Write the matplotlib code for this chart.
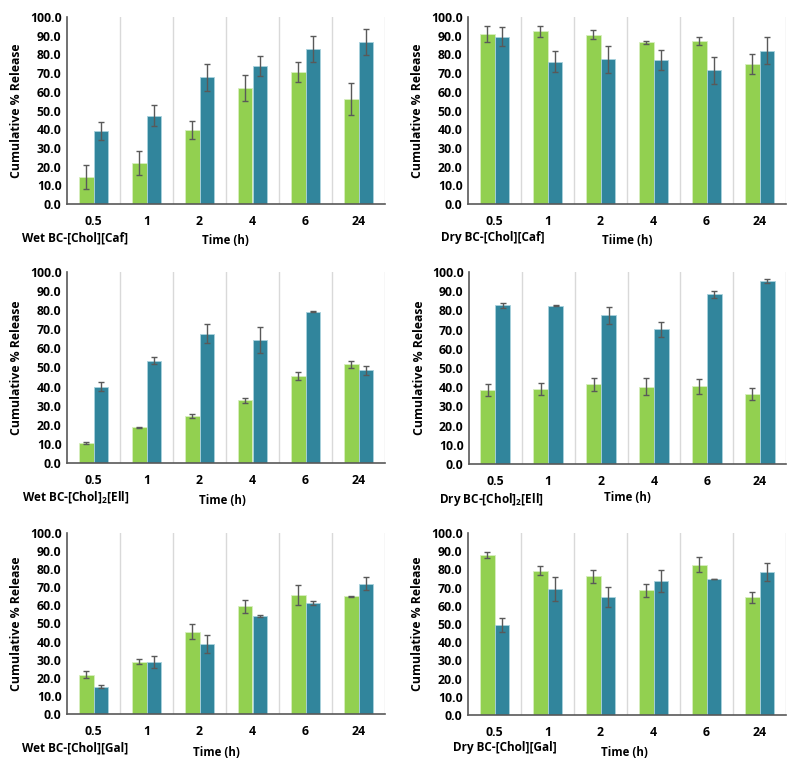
import matplotlib
matplotlib.use("Agg")
import matplotlib.pyplot as plt
import numpy as np

times = ["0.5", "1", "2", "4", "6", "24"]

# Panel data: green series, teal series, and their error bars
wet_caf_g = [14.6, 22.0, 39.5, 62.0, 70.7, 56.3]
wet_caf_g_err = [6.5, 6.4, 5.0, 6.8, 5.5, 8.5]
wet_caf_t = [39.1, 47.3, 67.7, 73.8, 82.9, 86.6]
wet_caf_t_err = [5.0, 5.5, 7.2, 5.4, 7.2, 7.0]

dry_caf_g = [90.9, 92.3, 90.5, 86.4, 87.0, 74.8]
dry_caf_g_err = [4.5, 3.1, 2.3, 1.0, 2.2, 5.2]
dry_caf_t = [89.5, 76.1, 77.3, 76.8, 71.4, 82.0]
dry_caf_t_err = [5.0, 5.6, 7.3, 5.4, 7.4, 7.2]

wet_ell_g = [10.5, 18.7, 24.6, 32.8, 45.5, 51.7]
wet_ell_g_err = [0.3, 0.3, 0.9, 1.4, 1.9, 1.9]
wet_ell_t = [40.0, 53.6, 67.7, 64.4, 79.2, 48.5]
wet_ell_t_err = [2.3, 1.7, 4.9, 6.8, 0.3, 2.4]

dry_ell_g = [38.5, 39.1, 41.5, 40.3, 40.5, 36.6]
dry_ell_g_err = [3.3, 3.0, 3.4, 4.3, 4.0, 3.1]
dry_ell_t = [82.8, 82.5, 77.4, 70.1, 88.5, 95.5]
dry_ell_t_err = [1.3, 0.3, 4.6, 4.0, 1.8, 1.0]

wet_gal_g = [21.8, 29.0, 45.4, 59.4, 65.7, 65.1]
wet_gal_g_err = [2.1, 1.6, 4.2, 3.7, 5.3, 0.3]
wet_gal_t = [15.1, 28.6, 38.6, 54.2, 61.4, 72.0]
wet_gal_t_err = [0.9, 3.3, 5.0, 0.5, 1.3, 3.5]

dry_gal_g = [87.9, 79.3, 76.3, 68.6, 82.6, 64.6]
dry_gal_g_err = [1.6, 2.4, 3.5, 3.5, 4.0, 3.2]
dry_gal_t = [49.4, 69.2, 64.8, 73.6, 74.7, 78.5]
dry_gal_t_err = [3.7, 6.5, 5.7, 6.0, 0.2, 4.8]

names = ["Wet BC-[Chol][Caf]", "Dry BC-[Chol][Caf]",
         r"Wet BC-[Chol]$_\mathbf{2}$[Ell]", r"Dry BC-[Chol]$_\mathbf{2}$[Ell]",
         "Wet BC-[Chol][Gal]", "Dry BC-[Chol][Gal]"]
xlabels = ["Time (h)", "Tiime (h)", "Time (h)", "Time (h)", "Time (h)", "Time (h)"]
yticks = [0, 10, 20, 30, 40, 50, 60, 70, 80, 90, 100]

panels = [
    (wet_caf_g, wet_caf_g_err, wet_caf_t, wet_caf_t_err),
    (dry_caf_g, dry_caf_g_err, dry_caf_t, dry_caf_t_err),
    (wet_ell_g, wet_ell_g_err, wet_ell_t, wet_ell_t_err),
    (dry_ell_g, dry_ell_g_err, dry_ell_t, dry_ell_t_err),
    (wet_gal_g, wet_gal_g_err, wet_gal_t, wet_gal_t_err),
    (dry_gal_g, dry_gal_g_err, dry_gal_t, dry_gal_t_err),
]

plt.rcParams['font.family'] = ['Open Sans', 'DejaVu Sans']
plt.rcParams['font.weight'] = 'bold'
plt.rcParams['mathtext.fontset'] = 'custom'
plt.rcParams['mathtext.bf'] = 'Open Sans:bold'
plt.rcParams['mathtext.rm'] = 'Open Sans:bold'
plt.rcParams['mathtext.default'] = 'bf'

W, H = 800, 771
fig = plt.figure(figsize=(W / 100, H / 100), dpi=100)

# axes boxes in pixels: left, top, right, bottom
boxes = [(67, 17, 385, 204), (468, 17, 786, 204),
         (67, 272, 385, 463), (469, 272, 786, 464),
         (67, 533, 385, 714), (468, 533, 786, 715)]
# label positions in pixels: (name_left_x, name_y, time_center_x, time_y)
label_pos = [(22, 238, 225, 240), (441, 237, 627, 240),
             (22, 497, 222, 501), (439, 499, 627, 497),
             (22, 748, 216, 752), (453, 748, 624, 753)]

GREEN = "#92D050"
TEAL = "#31859C"
bw = 0.283
x = np.arange(len(times))

for i, (box, (g, ge, t, te)) in enumerate(zip(boxes, panels)):
    l, tp, r, b = box
    ax = fig.add_axes([l / W, 1 - b / H, (r - l) / W, (b - tp) / H])
    ax.bar(x - bw / 2, g, bw, color=GREEN, edgecolor="#d8efc0", linewidth=0.6, zorder=2)
    ax.bar(x + bw / 2, t, bw, color=TEAL, edgecolor="#a9d2dd", linewidth=0.6, zorder=2)
    ax.errorbar(x - bw / 2, g, yerr=ge, fmt="none", ecolor="#595959", elinewidth=1.0,
                capsize=2.5, capthick=1.0, zorder=3)
    ax.errorbar(x + bw / 2, t, yerr=te, fmt="none", ecolor="#595959", elinewidth=1.0,
                capsize=2.5, capthick=1.0, zorder=3)
    for v in np.arange(0.5, len(times), 1.0):
        ax.axvline(v, color="#D9D9D9", linewidth=1.0, zorder=1)
    ax.set_xlim(-0.5, len(times) - 0.5)
    ax.set_ylim(0, 100)
    ax.set_yticks(yticks)
    ax.set_yticklabels([f"{v:.1f}" for v in yticks])
    ax.set_xticks(x)
    ax.set_xticklabels(times)
    ax.tick_params(axis="both", length=0, labelsize=8.8, colors="black")
    ax.tick_params(axis="x", pad=8)
    ax.tick_params(axis="y", pad=4)
    for lab in ax.get_xticklabels() + ax.get_yticklabels():
        lab.set_fontweight("bold")
    for s in ["top", "right"]:
        ax.spines[s].set_visible(False)
    ax.spines["left"].set_color("#595959")
    ax.spines["bottom"].set_color("#595959")
    ax.spines["left"].set_linewidth(1.2)
    ax.spines["bottom"].set_linewidth(1.2)
    ax.set_ylabel("Cumulative % Release", fontsize=8.8, fontweight="bold")
    ax.yaxis.set_label_coords(-0.137, 0.5)
    nx, ny, tx, ty = label_pos[i]
    fig.text(nx / W, 1 - ny / H, names[i], ha="left", va="center",
             fontsize=8.5, fontweight="bold")
    fig.text(tx / W, 1 - ty / H, xlabels[i], ha="center", va="center",
             fontsize=8.3, fontweight="bold")

fig.savefig("out.png", dpi=100, facecolor="white")
